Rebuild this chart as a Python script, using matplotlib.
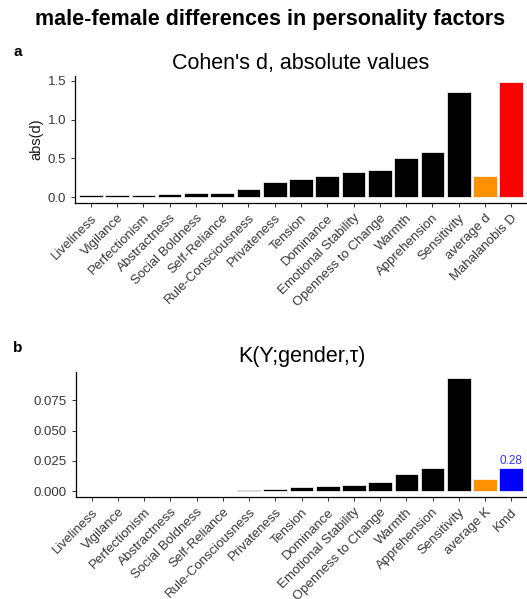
import matplotlib
matplotlib.use("Agg")
import matplotlib.pyplot as plt

plt.rcParams["font.family"] = ["Liberation Sans", "DejaVu Sans"]

factors = [
    "Liveliness", "Vigilance", "Perfectionism", "Abstractness",
    "Social Boldness", "Self-Reliance", "Rule-Consciousness", "Privateness",
    "Tension", "Dominance", "Emotional Stability", "Openness to Change",
    "Warmth", "Apprehension", "Sensitivity",
]

# Cohen's d per factor, plus the summary bars
cohen_d = [0.03, 0.03, 0.03, 0.04, 0.055, 0.055, 0.10, 0.20,
           0.24, 0.27, 0.32, 0.355, 0.50, 0.58, 1.36]
average_d = 0.27
mahalanobis_d = 1.49

# K(Y;gender,tau) per factor, plus the summary bars
k_values = [0.0001, 0.0001, 0.0002, 0.0003, 0.0004, 0.0005, 0.0011, 0.0019,
            0.0038, 0.0047, 0.0055, 0.0074, 0.0145, 0.019, 0.0935]
average_k = 0.0099
kmd = 0.019
kmd_label = "0.28"

W, H = 527, 599
fig = plt.figure(figsize=(W / 100, H / 100), dpi=100)


def px_axes(left, top, right, bottom):
    return fig.add_axes([left / W, 1 - bottom / H, (right - left) / W, (bottom - top) / H])


def style(ax, labels):
    for s in ["top", "right"]:
        ax.spines[s].set_visible(False)
    for s in ["left", "bottom"]:
        ax.spines[s].set_linewidth(0.9)
    ax.tick_params(axis="both", colors="#333333", labelcolor="#383838",
                   labelsize=9.5, length=3, width=0.7)
    ax.set_xticks(range(len(labels)))
    ax.set_xticklabels(labels, rotation=45, ha="right", va="top",
                       rotation_mode="anchor")
    ax.set_xlim(-0.6, len(labels) - 0.4)


# panel a
labels_a = factors + ["average d", "Mahalanobis D"]
vals_a = cohen_d + [average_d, mahalanobis_d]
cols_a = ["black"] * len(cohen_d) + ["#ff9100", "#ff0000"]
ax1 = px_axes(75, 76, 527, 203)
ax1.bar(range(len(vals_a)), vals_a, width=0.9, color=cols_a,
        edgecolor="white", linewidth=0.5)
top_a = max(vals_a)
ax1.set_ylim(-0.05 * top_a, 1.05 * top_a)
ax1.set_yticks([0, 0.5, 1.0, 1.5])
ax1.set_yticklabels(["0.0", "0.5", "1.0", "1.5"])
style(ax1, labels_a)
ax1.set_ylabel("abs(d)", fontsize=10.5, color="#1a1a1a", labelpad=3)
ax1.set_title("Cohen's d, absolute values", fontsize=15.5, pad=5)

# panel b
labels_b = factors + ["average K", "Kmd"]
vals_b = k_values + [average_k, kmd]
cols_b = ["black"] * len(k_values) + ["#ff9100", "#0000ff"]
ax2 = px_axes(76, 372, 527, 497)
ax2.bar(range(len(vals_b)), vals_b, width=0.9, color=cols_b,
        edgecolor="white", linewidth=0.5)
top_b = max(vals_b)
ax2.set_ylim(-0.05 * top_b, 1.05 * top_b)
ax2.set_yticks([0, 0.025, 0.05, 0.075])
ax2.set_yticklabels(["0.000", "0.025", "0.050", "0.075"])
style(ax2, labels_b)
ax2.set_title("K(Y;gender,τ)", fontsize=15.5, pad=7)
ax2.text(len(vals_b) - 1, kmd + 0.0012, kmd_label, color="#3333ff",
         ha="center", va="bottom", fontsize=8.5)

fig.text(270 / W, 1 - 20 / H, "male-female differences in personality factors",
         ha="center", va="center", fontsize=15.5, fontweight="bold")
fig.text(13 / W, 1 - 52 / H, "a", ha="left", va="center", fontsize=11, fontweight="bold")
fig.text(13 / W, 1 - 348 / H, "b", ha="left", va="center", fontsize=11, fontweight="bold")

fig.savefig("out.png", dpi=100, facecolor="white")
